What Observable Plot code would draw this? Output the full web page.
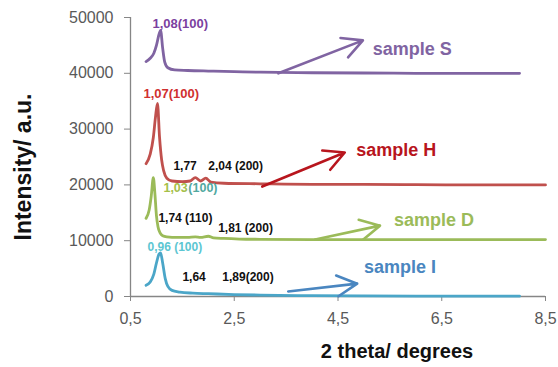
<!DOCTYPE html>
<html>
<head>
<meta charset="utf-8">
<script src="https://cdn.jsdelivr.net/npm/d3@7"></script>
<script src="https://cdn.jsdelivr.net/npm/@observablehq/plot@0.6"></script>
<style>
  html, body { margin: 0; padding: 0; background: #fff; }
</style>
</head>
<body>
<div id="chart"></div>
<script>
// ---- Data ----
const xTicks = [0.5, 2.5, 4.5, 6.5, 8.5];
const yTicks = [0, 10000, 20000, 30000, 40000, 50000];

const sampleS_x = [0.8, 0.88, 0.95, 1.0, 1.05, 1.08, 1.12, 1.16, 1.22, 1.35, 1.6, 2.0, 2.5, 3.0, 4.0, 5.0, 6.0, 7.0, 8.0];
const sampleS_y = [42100, 42700, 43600, 45000, 47000, 47700, 44500, 42000, 41000, 40600, 40500, 40400, 40300, 40200, 40100, 40050, 40000, 40000, 40000];

const sampleH_x = [0.8, 0.88, 0.94, 0.98, 1.02, 1.06, 1.1, 1.14, 1.2, 1.3, 1.5, 1.65, 1.75, 1.85, 1.95, 2.05, 2.3, 3.0, 4.0, 5.0, 6.0, 7.0, 8.0, 8.5];
const sampleH_y = [23800, 25500, 28500, 32000, 34600, 28500, 24500, 22500, 21200, 20700, 20600, 20700, 21300, 20700, 21200, 20500, 20300, 20200, 20100, 20100, 20050, 20000, 20000, 20000];

const sampleD_x = [0.8, 0.86, 0.9, 0.94, 0.97, 1.0, 1.03, 1.07, 1.12, 1.2, 1.4, 1.6, 1.75, 1.85, 2.0, 2.1, 2.3, 2.6, 3.0, 4.0, 5.0, 6.0, 7.0, 8.0, 8.5];
const sampleD_y = [14000, 15500, 18000, 21300, 18500, 14500, 12500, 11400, 10900, 10700, 10600, 10600, 10700, 10600, 10800, 10500, 10400, 10300, 10250, 10200, 10200, 10200, 10200, 10200, 10200];

const sampleI_x = [0.8, 0.88, 0.95, 1.0, 1.05, 1.08, 1.12, 1.17, 1.22, 1.3, 1.45, 1.7, 2.0, 2.5, 3.0, 4.0, 5.0, 6.0, 7.0, 8.0];
const sampleI_y = [2000, 2600, 4000, 6000, 7600, 7800, 6000, 3200, 1800, 1100, 800, 600, 500, 350, 250, 150, 100, 80, 50, 50];

// Sample name labels and arrows
const sampleNames   = ["sample S", "sample H", "sample D", "sample I"];
const sampleLabelX  = [5.17, 4.85, 5.58, 5.0];
const sampleLabelY  = [44400, 26200, 13600, 5200];
const sampleColors  = ["#8064A2", "#B8151D", "#9BBB59", "#4A86C0"];
const lineColors    = ["#8064A2", "#C0504D", "#9BBB59", "#4BA6C8"];
const arrowX1 = [3.35, 3.04, 4.06, 3.54];
const arrowY1 = [40000, 19700, 10200, 900];
const arrowX2 = [4.98, 4.63, 5.31, 4.87];
const arrowY2 = [45900, 25800, 12700, 2300];

// Peak annotations
const annoText  = ["1,08(100)", "1,07(100)", "1,77", "2,04 (200)", "1,03", "(100)", "1,74 (110)", "1,81 (200)", "0,96 (100)", "1,64", "1,89(200)"];
const annoX     = [0.923, 0.75, 1.327, 2.0, 1.135, 1.615, 1.038, 2.19, 0.827, 1.5, 2.27];
const annoY     = [48900, 36400, 23300, 23300, 19500, 19500, 14000, 12200, 8800, 3400, 3400];
const annoColor = ["#7B3FA0", "#D03030", "#111", "#111", "#A5C04A", "#52A8A0", "#111", "#111", "#5CC6D2", "#111", "#111"];
const annoSize  = [13, 13, 12, 12, 12.5, 12.5, 12, 12, 12, 12, 12];

// ---- Build tables ----
const series = [
  {x: sampleS_x, y: sampleS_y},
  {x: sampleH_x, y: sampleH_y},
  {x: sampleD_x, y: sampleD_y},
  {x: sampleI_x, y: sampleI_y}
].map((s, k) => s.x.map((x, i) => ({x, y: s.y[i]})));

const labels = sampleNames.map((t, i) => ({t, x: sampleLabelX[i], y: sampleLabelY[i], c: sampleColors[i]}));
const arrows = sampleNames.map((t, i) => ({x1: arrowX1[i], y1: arrowY1[i], x2: arrowX2[i], y2: arrowY2[i], c: sampleColors[i]}));
const annos = annoText.map((t, i) => ({t, x: annoX[i], y: annoY[i], c: annoColor[i], s: annoSize[i]}));

const fmt = d => String(d).replace(".", ",");

const lineMarks = series.map((data, k) =>
  Plot.line(data, {x: "x", y: "y", stroke: lineColors[k], strokeWidth: 2.8, curve: "monotone-x"})
);

const chart = Plot.plot({
  width: 558,
  height: 367,
  marginLeft: 130,
  marginRight: 13,
  marginTop: 17,
  marginBottom: 71,
  style: {fontFamily: "'Liberation Sans', Arial, sans-serif", background: "#fff"},
  x: {domain: [0.5, 8.5], ticks: xTicks, tickFormat: fmt, label: null},
  y: {domain: [0, 50000], ticks: yTicks, tickFormat: d => String(d), label: null},
  marks: [
    Plot.axisX({ticks: xTicks, tickFormat: fmt, tickSize: 5, tickPadding: 11, fontSize: 16, fill: "#595959", stroke: "#868686", label: null}),
    Plot.axisY({ticks: yTicks, tickFormat: d => String(d), tickSize: 6, tickPadding: 11, fontSize: 16, fill: "#595959", stroke: "#868686", label: null}),
    Plot.ruleX([0.5], {stroke: "#868686", strokeWidth: 1.3}),
    Plot.ruleY([0], {stroke: "#868686", strokeWidth: 1.3}),
    ...lineMarks,
    Plot.arrow(arrows, {x1: "x1", y1: "y1", x2: "x2", y2: "y2", stroke: "c", strokeWidth: 2.6, headLength: 13, headAngle: 55}),
    Plot.text(labels, {x: "x", y: "y", text: "t", fill: "c", textAnchor: "start", lineAnchor: "middle", fontSize: 18, fontWeight: "bold"}),
    Plot.text(annos, {x: "x", y: "y", text: "t", fill: "c", textAnchor: "start", lineAnchor: "middle", fontSize: "s", fontWeight: "bold"}),
    Plot.text(["Intensity/ a.u."], {frameAnchor: "left", text: d => d, rotate: -90, dx: -107, dy: 10, fontSize: 23, fontWeight: "bold", fill: "#111", textAnchor: "middle", lineAnchor: "middle"}),
    Plot.text(["2 theta/ degrees"], {frameAnchor: "bottom", text: d => d, dx: 59, dy: 55, fontSize: 20, fontWeight: "bold", fill: "#111", textAnchor: "middle", lineAnchor: "middle"})
  ]
});

document.getElementById("chart").appendChild(chart);
</script>
</body>
</html>
